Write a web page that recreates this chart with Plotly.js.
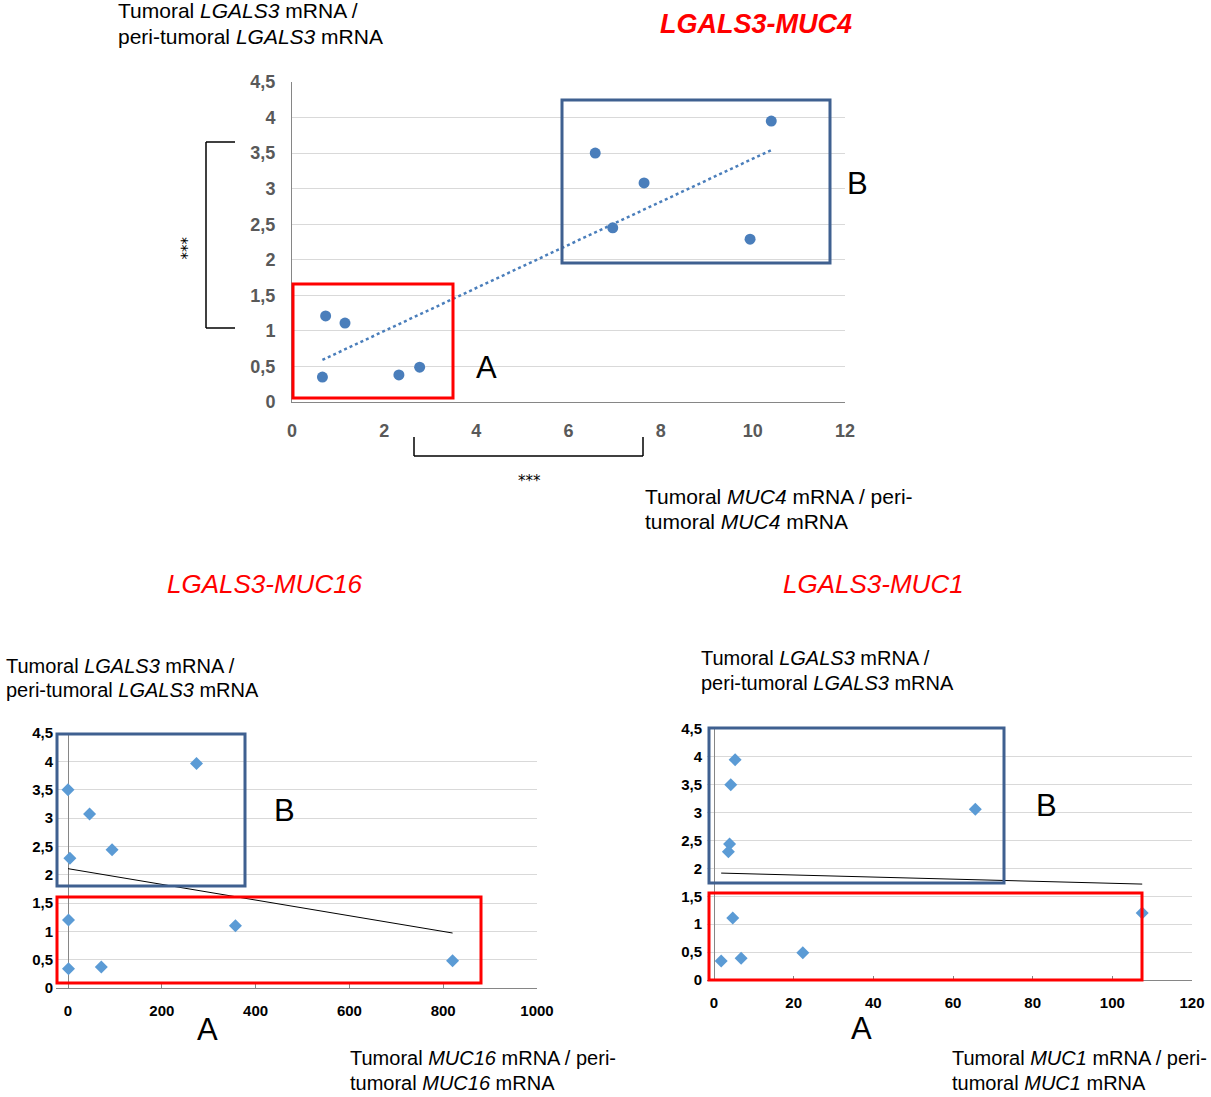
<!DOCTYPE html>
<html>
<head>
<meta charset="utf-8">
<script src="https://cdn.plot.ly/plotly-3.0.1.min.js"></script>
<style>html,body{margin:0;padding:0;background:#fff}#chart{width:1211px;height:1097px}</style>
</head>
<body>
<div id="chart"></div>
<script>
// ---- Data ----
// LGALS3 tumoral / peri-tumoral ratio for the 10 patients
const muc4X  = [0.66, 0.73, 1.15, 2.32, 2.77, 6.58, 6.96, 7.64, 9.94, 10.40];
const muc4Y  = [0.35, 1.21, 1.11, 0.38, 0.49, 3.50, 2.45, 3.08, 2.29, 3.95];

const muc16X = [0, 46, 4, 94, 274, 1, 357, 1, 71, 820];
const muc16Y = [3.50, 3.07, 2.29, 2.44, 3.96, 1.20, 1.10, 0.34, 0.37, 0.48];

const muc1X  = [5.3, 4.2, 65.6, 3.9, 3.6, 4.7, 107.5, 1.8, 6.8, 22.3];
const muc1Y  = [3.95, 3.50, 3.06, 2.44, 2.30, 1.11, 1.20, 0.34, 0.39, 0.49];

const yTicks = [0, 0.5, 1, 1.5, 2, 2.5, 3, 3.5, 4, 4.5];
const yTickText = ['0', '0,5', '1', '1,5', '2', '2,5', '3', '3,5', '4', '4,5'];

const titles = ['LGALS3-MUC4', 'LGALS3-MUC16', 'LGALS3-MUC1'];

// ---- linear trend (least squares) ----
function trend(xs, ys) {
  const n = xs.length;
  const mx = xs.reduce((a, b) => a + b, 0) / n;
  const my = ys.reduce((a, b) => a + b, 0) / n;
  let sxy = 0, sxx = 0;
  for (let i = 0; i < n; i++) { sxy += (xs[i] - mx) * (ys[i] - my); sxx += (xs[i] - mx) ** 2; }
  const b = sxy / sxx, a = my - b * mx;
  const x0 = Math.min(...xs), x1 = Math.max(...xs);
  return { x: [x0, x1], y: [a + b * x0, a + b * x1] };
}

const W = 1211, H = 1097;
const fx = p => p / W;
const fy = p => 1 - p / H;

const t4 = trend(muc4X, muc4Y), t16 = trend(muc16X, muc16Y), t1 = trend(muc1X, muc1Y);

const traces = [
  { x: muc4X, y: muc4Y, type: 'scatter', mode: 'markers', xaxis: 'x', yaxis: 'y',
    marker: { symbol: 'circle', size: 11, color: '#4a7ebb' } },
  { x: t4.x, y: t4.y, type: 'scatter', mode: 'lines', xaxis: 'x', yaxis: 'y',
    line: { color: '#4a7ebb', width: 2.5, dash: 'dot' } },
  { x: muc16X, y: muc16Y, type: 'scatter', mode: 'markers', xaxis: 'x2', yaxis: 'y2',
    marker: { symbol: 'diamond', size: 10, color: '#5b9bd5' } },
  { x: t16.x, y: t16.y, type: 'scatter', mode: 'lines', xaxis: 'x2', yaxis: 'y2',
    line: { color: '#000', width: 1 } },
  { x: muc1X, y: muc1Y, type: 'scatter', mode: 'markers', xaxis: 'x3', yaxis: 'y3',
    marker: { symbol: 'diamond', size: 10, color: '#5b9bd5' } },
  { x: t1.x, y: t1.y, type: 'scatter', mode: 'lines', xaxis: 'x3', yaxis: 'y3',
    line: { color: '#000', width: 1 } }
];

const topTick = { family: 'Liberation Sans, Arial, sans-serif', size: 18, color: '#595959', weight: 'bold' };
const botTick = { family: 'Liberation Sans, Arial, sans-serif', size: 15, color: '#000', weight: 'bold' };

const yCommon = { range: [0, 4.5], tickmode: 'array', tickvals: yTicks, ticktext: yTickText,
  showgrid: true, gridcolor: '#d9d9d9', gridwidth: 1, zeroline: false, fixedrange: true };

const layout = {
  width: W, height: H, margin: { l: 0, r: 0, t: 0, b: 0 },
  paper_bgcolor: '#fff', plot_bgcolor: 'rgba(0,0,0,0)', showlegend: false,
  separators: ', ',
  font: { family: 'Liberation Sans, Arial, sans-serif', color: '#000' },
  xaxis: { domain: [fx(292), fx(845)], range: [0, 12], tick0: 0, dtick: 2, showgrid: false,
    zeroline: false, showline: true, linecolor: '#868686', linewidth: 1, ticks: '',
    tickfont: topTick, ticklabelstandoff: 12, anchor: 'y' },
  yaxis: Object.assign({}, yCommon, { domain: [fy(402), fy(82)], showline: true,
    linecolor: '#868686', linewidth: 1, ticks: '', tickfont: topTick, ticklabelstandoff: 12, anchor: 'x' }),
  xaxis2: { domain: [fx(56), fx(537)], range: [-25.6, 1000], tick0: 0, dtick: 200, showgrid: false,
    zeroline: true, zerolinecolor: '#868686', zerolinewidth: 1, showline: true, linecolor: '#868686',
    ticks: 'inside', ticklen: 4, tickcolor: '#868686', tickfont: botTick, ticklabelstandoff: 9, anchor: 'y2' },
  yaxis2: Object.assign({}, yCommon, { domain: [fy(988), fy(733)], showline: false, ticks: '',
    tickfont: botTick, ticklabelstandoff: 2, anchor: 'x2' }),
  xaxis3: { domain: [fx(707), fx(1192)], range: [-1.76, 120], tick0: 0, dtick: 20, showgrid: false,
    zeroline: true, zerolinecolor: '#868686', zerolinewidth: 1, showline: true, linecolor: '#868686',
    ticks: 'inside', ticklen: 4, tickcolor: '#868686', tickfont: botTick, ticklabelstandoff: 9, anchor: 'y3' },
  yaxis3: Object.assign({}, yCommon, { domain: [fy(980), fy(729)], showline: false, ticks: '',
    tickfont: botTick, ticklabelstandoff: 4, anchor: 'x3' }),
  shapes: [],
  annotations: []
};

const BLUE = '#3f6090', RED = '#ff0000';
function rect(x0, y0, x1, y1, c) {
  layout.shapes.push({ type: 'rect', xref: 'paper', yref: 'paper', x0: fx(x0), x1: fx(x1), y0: fy(y1), y1: fy(y0),
    line: { color: c, width: 3 }, fillcolor: 'rgba(0,0,0,0)' });
}
function seg(x0, y0, x1, y1) {
  layout.shapes.push({ type: 'line', xref: 'paper', yref: 'paper', x0: fx(x0), x1: fx(x1), y0: fy(y0), y1: fy(y1),
    line: { color: '#000', width: 1.5 } });
}
function txt(text, x, y, size, opts) {
  layout.annotations.push(Object.assign({ text: text, xref: 'paper', yref: 'paper', x: fx(x), y: fy(y),
    xanchor: 'left', yanchor: 'middle', showarrow: false, borderpad: 0,
    font: { family: 'Liberation Sans, Arial, sans-serif', size: size, color: '#000' } }, opts || {}));
}

// boxes
rect(293, 284, 453, 398, RED);
rect(562, 100, 830, 263, BLUE);
rect(57, 734, 245, 886, BLUE);
rect(57, 897, 481, 983, RED);
rect(709, 728, 1004, 883, BLUE);
rect(709, 893, 1142, 980, RED);

// significance brackets
seg(206, 142, 206, 328); seg(206, 142, 235, 142); seg(206, 328, 235, 328);
seg(414, 456, 643, 456); seg(414, 437, 414, 456); seg(643, 437, 643, 456);
txt('***', 181, 248, 22, { xanchor: 'center', textangle: 90, font: { family: 'DejaVu Sans, sans-serif', size: 15, color: '#000' } });
txt('***', 529, 481, 22, { xanchor: 'center', font: { family: 'DejaVu Sans, sans-serif', size: 15, color: '#000' } });

// titles
txt('<b><i>' + titles[0] + '</i></b>', 756, 24, 27, { xanchor: 'center', font: { family: 'Liberation Sans, Arial, sans-serif', size: 27, color: RED } });
txt('<i>' + titles[1] + '</i>', 265, 584, 26, { xanchor: 'center', font: { family: 'Liberation Sans, Arial, sans-serif', size: 26, color: RED } });
txt('<i>' + titles[2] + '</i>', 873, 584, 26, { xanchor: 'center', font: { family: 'Liberation Sans, Arial, sans-serif', size: 26, color: RED } });

// axis labels
txt('Tumoral <i>LGALS3</i> mRNA /', 117, 11, 21);
txt('peri-tumoral <i>LGALS3</i> mRNA', 117, 36, 21);
txt('Tumoral <i>MUC4</i> mRNA / peri-', 644, 496, 21);
txt('tumoral <i>MUC4</i> mRNA', 644, 521, 21);

txt('Tumoral <i>LGALS3</i> mRNA /', 5, 666, 20);
txt('peri-tumoral <i>LGALS3</i> mRNA', 5, 690, 20);
txt('Tumoral <i>MUC16</i> mRNA / peri-', 349, 1058, 20);
txt('tumoral <i>MUC16</i> mRNA', 349, 1083, 20);

txt('Tumoral <i>LGALS3</i> mRNA /', 700, 658, 20);
txt('peri-tumoral <i>LGALS3</i> mRNA', 700, 683, 20);
txt('Tumoral <i>MUC1</i> mRNA / peri-', 951, 1058, 20);
txt('tumoral <i>MUC1</i> mRNA', 951, 1083, 20);

// group letters
txt('A', 486, 367, 31, { xanchor: 'center' });
txt('B', 857, 183, 31, { xanchor: 'center' });
txt('A', 207, 1029, 31, { xanchor: 'center' });
txt('B', 284, 810, 31, { xanchor: 'center' });
txt('A', 862, 1028, 31, { xanchor: 'center' });
txt('B', 1046, 805, 31, { xanchor: 'center' });

Plotly.newPlot('chart', traces, layout, { staticPlot: true, displayModeBar: false });
</script>
</body>
</html>
